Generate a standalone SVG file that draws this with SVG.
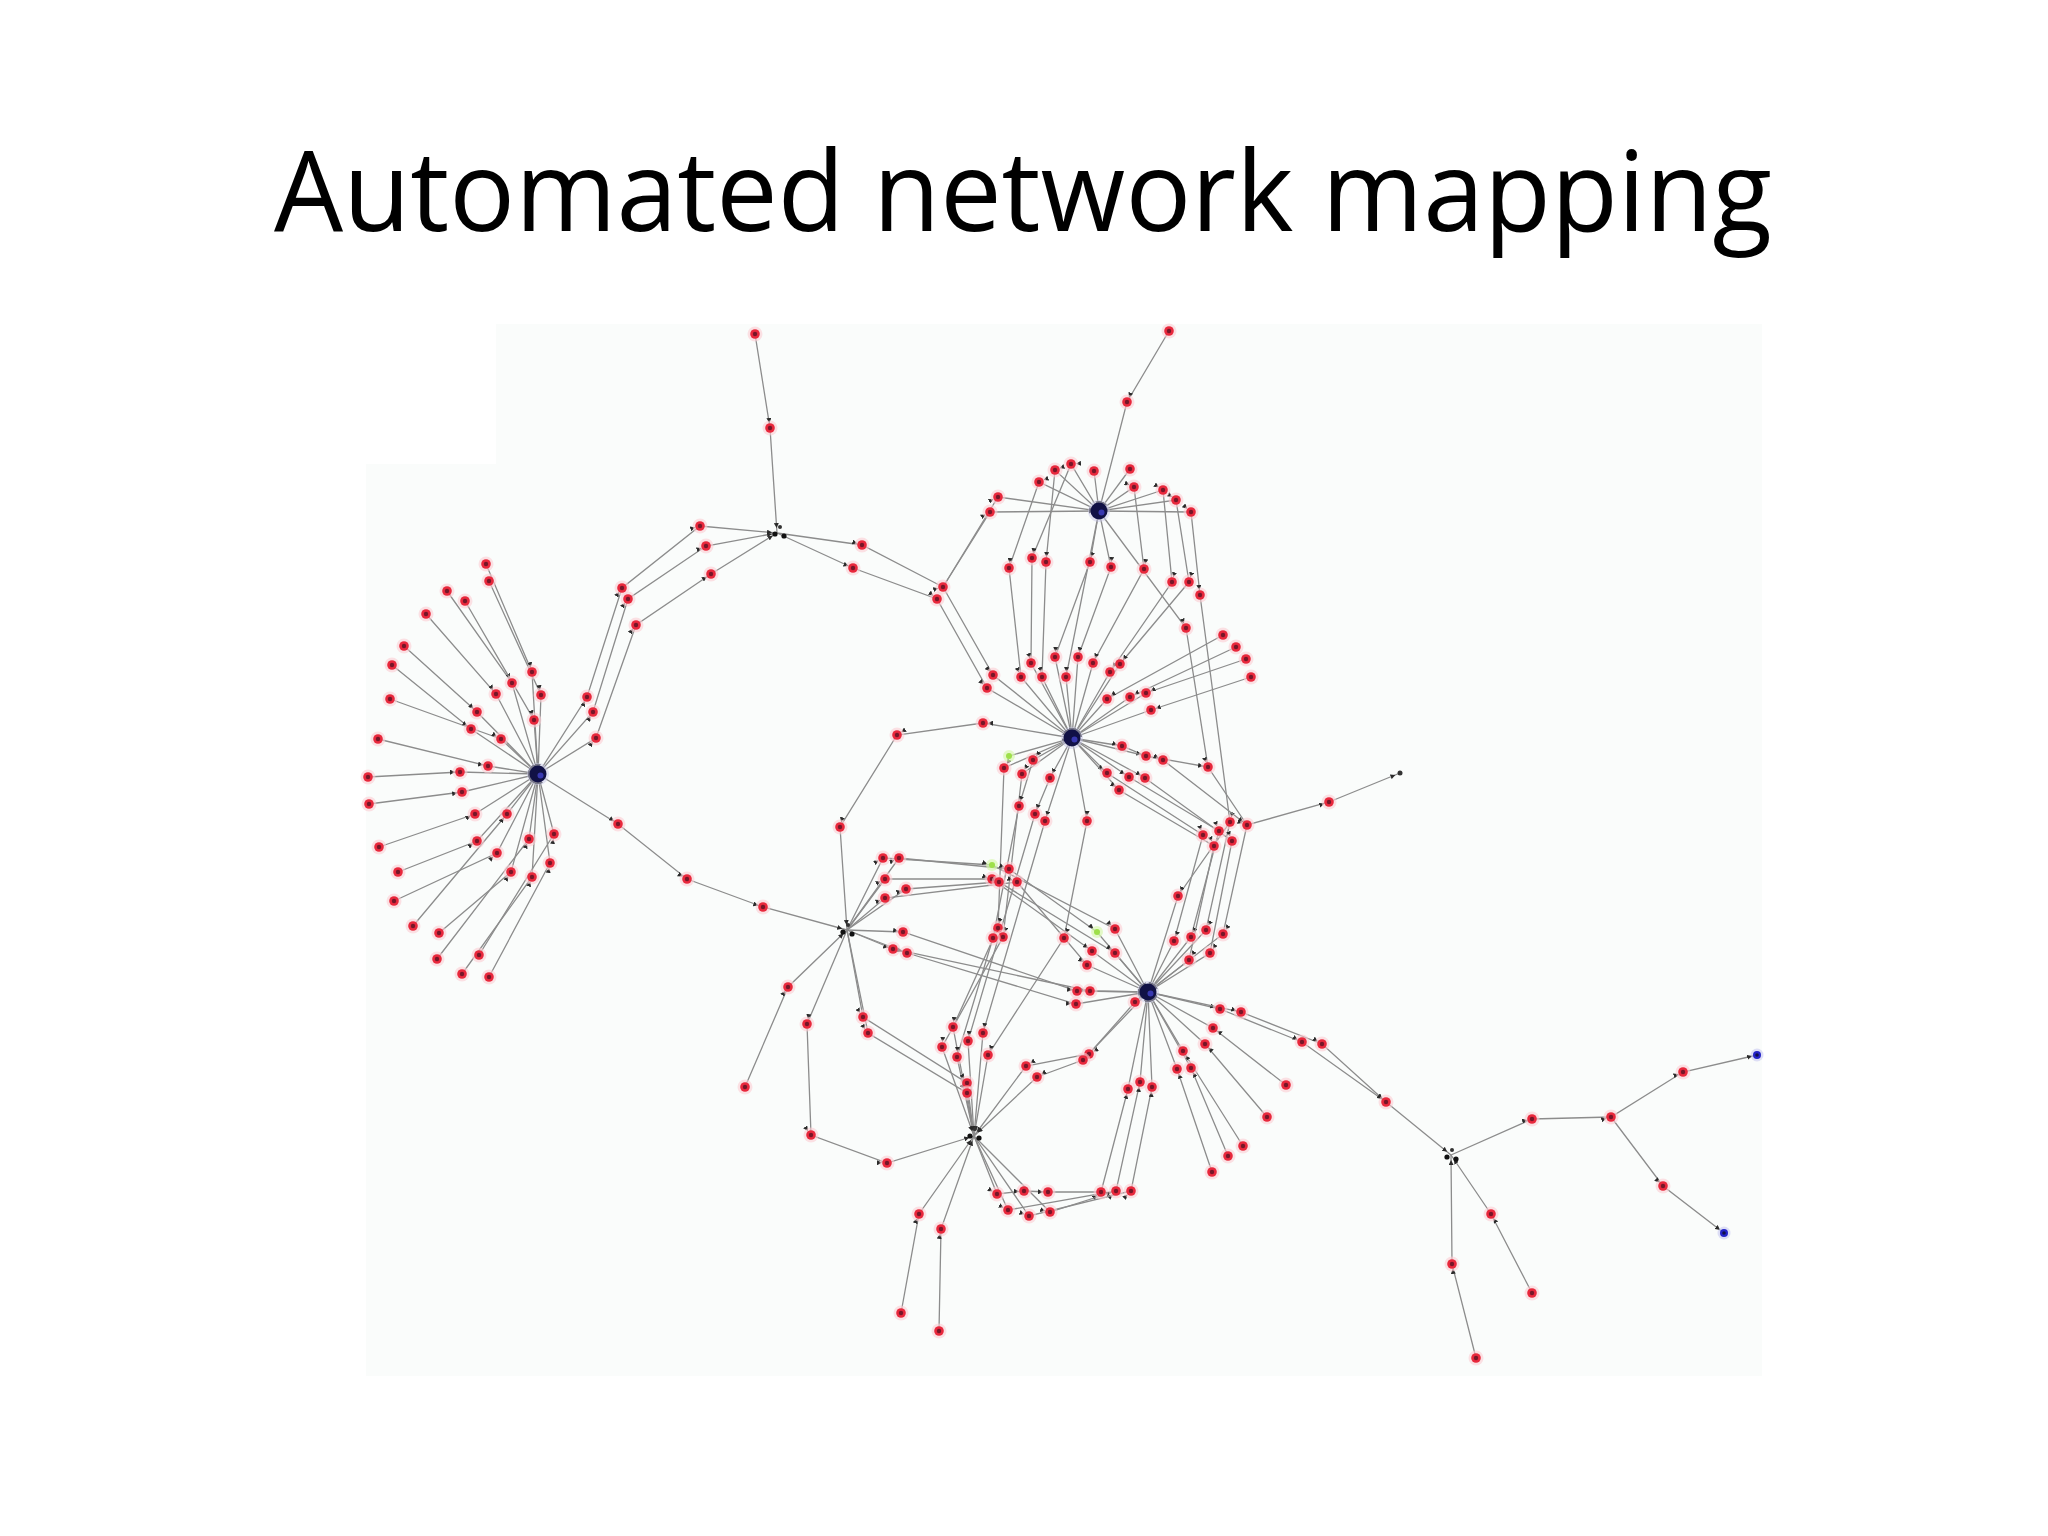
<svg xmlns="http://www.w3.org/2000/svg" xmlns:xlink="http://www.w3.org/1999/xlink" width="2048" height="1536" viewBox="0 0 2048 1536">
<style>
.e{fill:none;stroke:#8c8c8c;stroke-width:1.3;marker-mid:url(#a);marker-end:url(#a)}
.t{font-family:"Open Sans","Noto Sans","Liberation Sans",sans-serif;font-size:112px;fill:#000}
</style>
<defs>
<marker id="a" viewBox="0 0 6 6" refX="12" refY="3" markerWidth="5" markerHeight="5" markerUnits="userSpaceOnUse" orient="auto"><path d="M0,0L6,3L0,6z" fill="#2a2a2a"/></marker>
<g id="r"><circle r="7.5" fill="#fbcdd3" opacity="0.6"/><circle r="4.8" fill="#e8283c"/><circle r="2.2" fill="#761628"/></g>
<g id="bl"><circle r="6.5" fill="#c9c9f2" opacity="0.6"/><circle r="4" fill="#2424c8"/><circle r="1.8" fill="#10104a"/></g>
<g id="gr"><circle r="6" fill="#d8f8b0" opacity="0.7"/><circle r="3" fill="#9ee04a"/></g>
<g id="hb"><circle r="11" fill="#c8c8e8" opacity="0.5"/><circle r="8.5" fill="#111146"/><circle cx="2.5" cy="1.5" r="3" fill="#3838b0"/></g>
<g id="rt"><circle cx="-4" cy="0" r="2.6" fill="#111"/><circle cx="5" cy="2" r="2.6" fill="#111"/><circle cx="1" cy="-7" r="2" fill="#333"/></g>
</defs>
<rect width="2048" height="1536" fill="#ffffff"/>
<path d="M496,324H1762V1376H366V464H496Z" fill="#fafcfb"/>
<text class="t" x="274" y="231" textLength="1498" lengthAdjust="spacingAndGlyphs">Automated network mapping</text>
<g id="edges">
<polyline class="e" points="486,564 532,672 538,774"/>
<polyline class="e" points="489,581 541,695 538,774"/>
<polyline class="e" points="447,591 512,683 538,774"/>
<polyline class="e" points="465,601 534,720 538,774"/>
<polyline class="e" points="426,614 496,694 538,774"/>
<polyline class="e" points="404,646 477,712 538,774"/>
<polyline class="e" points="392,665 471,729 538,774"/>
<polyline class="e" points="390,699 501,739 538,774"/>
<polyline class="e" points="378,739 488,766 538,774"/>
<polyline class="e" points="368,777 460,772 538,774"/>
<polyline class="e" points="369,804 462,792 538,774"/>
<polyline class="e" points="379,847 475,814 538,774"/>
<polyline class="e" points="398,872 477,841 538,774"/>
<polyline class="e" points="394,901 497,853 538,774"/>
<polyline class="e" points="413,926 507,814 538,774"/>
<polyline class="e" points="439,933 511,872 538,774"/>
<polyline class="e" points="437,959 529,839 538,774"/>
<polyline class="e" points="462,974 532,877 538,774"/>
<polyline class="e" points="479,955 554,834 538,774"/>
<polyline class="e" points="489,977 550,863 538,774"/>
<polyline class="e" points="538,774 587,697 622,588 700,526 777,533"/>
<polyline class="e" points="538,774 593,712 628,599 706,546 777,533"/>
<polyline class="e" points="538,774 596,738 636,625 711,574 777,533"/>
<polyline class="e" points="538,774 618,824 687,879 763,907 847,930"/>
<polyline class="e" points="755,334 770,428 777,533"/>
<polyline class="e" points="777,533 862,545 943,587 990,512 1099,511"/>
<polyline class="e" points="943,587 998,497 1099,511"/>
<polyline class="e" points="777,533 853,568 937,599 987,688 1072,738"/>
<polyline class="e" points="943,587 993,675 1072,738"/>
<polyline class="e" points="1169,331 1127,402 1099,511"/>
<polyline class="e" points="1099,511 1039,482 1009,568 1021,677 1072,738"/>
<polyline class="e" points="1099,511 1071,464 1032,558 1031,663 1072,738"/>
<polyline class="e" points="1099,511 1055,470 1046,562 1042,677 1072,738"/>
<polyline class="e" points="1099,511 1090,562 1055,657 1072,738"/>
<polyline class="e" points="1099,511 1066,677 1072,738"/>
<polyline class="e" points="1099,511 1111,567 1078,657 1072,738"/>
<polyline class="e" points="1099,511 1134,487 1144,569 1093,663 1072,738"/>
<polyline class="e" points="1099,511 1163,490 1172,582 1110,672 1072,738"/>
<polyline class="e" points="1099,511 1176,500 1189,582 1120,664 1072,738"/>
<polyline class="e" points="1099,511 1191,512 1200,595 1230,822 1178,896 1148,992"/>
<polyline class="e" points="1094,471 1099,511"/>
<polyline class="e" points="1130,469 1099,511"/>
<polyline class="e" points="1099,511 1186,628 1208,767 1247,825 1329,802 1400,773"/>
<polyline class="e" points="1247,825 1223,934 1148,992"/>
<polyline class="e" points="1230,822 1206,930 1148,992"/>
<polyline class="e" points="1223,635 1107,699 1072,738"/>
<polyline class="e" points="1236,647 1130,697 1072,738"/>
<polyline class="e" points="1246,659 1146,693 1072,738"/>
<polyline class="e" points="1251,677 1151,710 1072,738"/>
<polyline class="e" points="1072,738 1122,746 1146,756 1208,767"/>
<polyline class="e" points="1072,738 1163,760 1247,825"/>
<polyline class="e" points="1072,738 1107,773 1203,835 1174,941 1148,992"/>
<polyline class="e" points="1072,738 1129,777 1219,831 1191,937 1148,992"/>
<polyline class="e" points="1072,738 1145,778 1232,841 1210,953 1148,992"/>
<polyline class="e" points="1072,738 1119,790 1214,846 1189,960 1148,992"/>
<polyline class="e" points="1009,756 1072,738"/>
<polyline class="e" points="1072,738 983,723 897,735 840,827 847,930"/>
<polyline class="e" points="1072,738 1004,768 998,928 953,1027 974,1136"/>
<polyline class="e" points="1072,738 1022,774 1003,937 942,1047 974,1136"/>
<polyline class="e" points="1072,738 1033,760 1019,806 993,938 957,1057 974,1136"/>
<polyline class="e" points="1072,738 1050,778 1035,814 968,1041 974,1136"/>
<polyline class="e" points="1072,738 1045,821 983,1033 974,1136"/>
<polyline class="e" points="1072,738 1087,821 1064,938 988,1055 974,1136"/>
<polyline class="e" points="847,930 883,858 992,865 1115,929 1148,992"/>
<polyline class="e" points="847,930 899,858 1009,869 1097,932 1148,992"/>
<polyline class="e" points="847,930 885,879 992,879 1092,951 1148,992"/>
<polyline class="e" points="847,930 906,889 999,882 1115,953 1148,992"/>
<polyline class="e" points="847,930 885,898 1017,882 1087,965 1148,992"/>
<polyline class="e" points="847,930 903,932 1077,991 1148,992"/>
<polyline class="e" points="847,930 893,949 1090,991 1148,992"/>
<polyline class="e" points="847,930 907,953 1076,1004 1148,992"/>
<polyline class="e" points="1148,992 1135,1002 1089,1054 1026,1066 974,1136"/>
<polyline class="e" points="1148,992 1083,1060 1037,1077 974,1136"/>
<polyline class="e" points="745,1087 788,987 847,930"/>
<polyline class="e" points="847,930 807,1024 811,1135 887,1163 974,1136"/>
<polyline class="e" points="847,930 863,1017 967,1083 974,1136"/>
<polyline class="e" points="847,930 868,1033 967,1093 974,1136"/>
<polyline class="e" points="901,1313 919,1214 974,1136"/>
<polyline class="e" points="939,1331 941,1229 974,1136"/>
<polyline class="e" points="974,1136 997,1194 1024,1191 1048,1192 1101,1192 1128,1089 1148,992"/>
<polyline class="e" points="974,1136 1008,1210 1116,1191 1140,1082 1148,992"/>
<polyline class="e" points="974,1136 1029,1216 1131,1191 1152,1087 1148,992"/>
<polyline class="e" points="974,1136 1050,1212 1116,1191"/>
<polyline class="e" points="1286,1085 1213,1028 1148,992"/>
<polyline class="e" points="1267,1117 1205,1044 1148,992"/>
<polyline class="e" points="1243,1146 1183,1051 1148,992"/>
<polyline class="e" points="1228,1156 1191,1068 1148,992"/>
<polyline class="e" points="1212,1172 1177,1069 1148,992"/>
<polyline class="e" points="1148,992 1220,1009 1302,1042 1386,1102 1451,1155"/>
<polyline class="e" points="1148,992 1241,1012 1322,1044 1386,1102"/>
<polyline class="e" points="1451,1155 1532,1119 1611,1117 1683,1072 1757,1055"/>
<polyline class="e" points="1611,1117 1663,1186 1724,1233"/>
<polyline class="e" points="1532,1293 1491,1214 1451,1155"/>
<polyline class="e" points="1476,1358 1452,1264 1451,1155"/>
</g>
<g id="nodes">
<g id="n1"><use href="#r" x="486" y="564"/></g>
<g id="n2"><use href="#r" x="489" y="581"/></g>
<g id="n3"><use href="#r" x="447" y="591"/></g>
<g id="n4"><use href="#r" x="465" y="601"/></g>
<g id="n5"><use href="#r" x="426" y="614"/></g>
<g id="n6"><use href="#r" x="404" y="646"/></g>
<g id="n7"><use href="#r" x="392" y="665"/></g>
<g id="n8"><use href="#r" x="390" y="699"/></g>
<g id="n9"><use href="#r" x="378" y="739"/></g>
<g id="n10"><use href="#r" x="368" y="777"/></g>
<g id="n11"><use href="#r" x="369" y="804"/></g>
<g id="n12"><use href="#r" x="379" y="847"/></g>
<g id="n13"><use href="#r" x="398" y="872"/></g>
<g id="n14"><use href="#r" x="394" y="901"/></g>
<g id="n15"><use href="#r" x="413" y="926"/></g>
<g id="n16"><use href="#r" x="439" y="933"/></g>
<g id="n17"><use href="#r" x="437" y="959"/></g>
<g id="n18"><use href="#r" x="479" y="955"/></g>
<g id="n19"><use href="#r" x="462" y="974"/></g>
<g id="n20"><use href="#r" x="489" y="977"/></g>
<g id="n21"><use href="#r" x="532" y="672"/></g>
<g id="n22"><use href="#r" x="541" y="695"/></g>
<g id="n23"><use href="#r" x="512" y="683"/></g>
<g id="n24"><use href="#r" x="534" y="720"/></g>
<g id="n25"><use href="#r" x="496" y="694"/></g>
<g id="n26"><use href="#r" x="477" y="712"/></g>
<g id="n27"><use href="#r" x="471" y="729"/></g>
<g id="n28"><use href="#r" x="501" y="739"/></g>
<g id="n29"><use href="#r" x="488" y="766"/></g>
<g id="n30"><use href="#r" x="460" y="772"/></g>
<g id="n31"><use href="#r" x="462" y="792"/></g>
<g id="n32"><use href="#r" x="475" y="814"/></g>
<g id="n33"><use href="#r" x="477" y="841"/></g>
<g id="n34"><use href="#r" x="497" y="853"/></g>
<g id="n35"><use href="#r" x="507" y="814"/></g>
<g id="n36"><use href="#r" x="511" y="872"/></g>
<g id="n37"><use href="#r" x="529" y="839"/></g>
<g id="n38"><use href="#r" x="532" y="877"/></g>
<g id="n39"><use href="#r" x="550" y="863"/></g>
<g id="n40"><use href="#r" x="554" y="834"/></g>
<g id="n41"><use href="#r" x="587" y="697"/></g>
<g id="n42"><use href="#r" x="622" y="588"/></g>
<g id="n43"><use href="#r" x="700" y="526"/></g>
<g id="n44"><use href="#r" x="593" y="712"/></g>
<g id="n45"><use href="#r" x="628" y="599"/></g>
<g id="n46"><use href="#r" x="706" y="546"/></g>
<g id="n47"><use href="#r" x="596" y="738"/></g>
<g id="n48"><use href="#r" x="636" y="625"/></g>
<g id="n49"><use href="#r" x="711" y="574"/></g>
<g id="n50"><use href="#r" x="618" y="824"/></g>
<g id="n51"><use href="#r" x="687" y="879"/></g>
<g id="n52"><use href="#r" x="763" y="907"/></g>
<g id="n53"><use href="#r" x="770" y="428"/></g>
<g id="n54"><use href="#r" x="755" y="334"/></g>
<g id="n55"><use href="#r" x="862" y="545"/></g>
<g id="n56"><use href="#r" x="853" y="568"/></g>
<g id="n57"><use href="#r" x="943" y="587"/></g>
<g id="n58"><use href="#r" x="937" y="599"/></g>
<g id="n59"><use href="#r" x="1127" y="402"/></g>
<g id="n60"><use href="#r" x="1169" y="331"/></g>
<g id="n61"><use href="#r" x="1039" y="482"/></g>
<g id="n62"><use href="#r" x="1055" y="470"/></g>
<g id="n63"><use href="#r" x="1071" y="464"/></g>
<g id="n64"><use href="#r" x="1094" y="471"/></g>
<g id="n65"><use href="#r" x="1130" y="469"/></g>
<g id="n66"><use href="#r" x="1134" y="487"/></g>
<g id="n67"><use href="#r" x="1163" y="490"/></g>
<g id="n68"><use href="#r" x="1176" y="500"/></g>
<g id="n69"><use href="#r" x="1191" y="512"/></g>
<g id="n70"><use href="#r" x="998" y="497"/></g>
<g id="n71"><use href="#r" x="990" y="512"/></g>
<g id="n72"><use href="#r" x="1009" y="568"/></g>
<g id="n73"><use href="#r" x="1032" y="558"/></g>
<g id="n74"><use href="#r" x="1046" y="562"/></g>
<g id="n75"><use href="#r" x="1090" y="562"/></g>
<g id="n76"><use href="#r" x="1111" y="567"/></g>
<g id="n77"><use href="#r" x="1144" y="569"/></g>
<g id="n78"><use href="#r" x="1172" y="582"/></g>
<g id="n79"><use href="#r" x="1189" y="582"/></g>
<g id="n80"><use href="#r" x="1200" y="595"/></g>
<g id="n81"><use href="#r" x="1186" y="628"/></g>
<g id="n82"><use href="#r" x="993" y="675"/></g>
<g id="n83"><use href="#r" x="1021" y="677"/></g>
<g id="n84"><use href="#r" x="1031" y="663"/></g>
<g id="n85"><use href="#r" x="1042" y="677"/></g>
<g id="n86"><use href="#r" x="1055" y="657"/></g>
<g id="n87"><use href="#r" x="1066" y="677"/></g>
<g id="n88"><use href="#r" x="1078" y="657"/></g>
<g id="n89"><use href="#r" x="1093" y="663"/></g>
<g id="n90"><use href="#r" x="1110" y="672"/></g>
<g id="n91"><use href="#r" x="1120" y="664"/></g>
<g id="n92"><use href="#r" x="987" y="688"/></g>
<g id="n93"><use href="#r" x="1107" y="699"/></g>
<g id="n94"><use href="#r" x="1130" y="697"/></g>
<g id="n95"><use href="#r" x="1146" y="693"/></g>
<g id="n96"><use href="#r" x="1151" y="710"/></g>
<g id="n97"><use href="#r" x="1223" y="635"/></g>
<g id="n98"><use href="#r" x="1236" y="647"/></g>
<g id="n99"><use href="#r" x="1246" y="659"/></g>
<g id="n100"><use href="#r" x="1251" y="677"/></g>
<g id="n101"><use href="#r" x="1122" y="746"/></g>
<g id="n102"><use href="#r" x="1146" y="756"/></g>
<g id="n103"><use href="#r" x="1163" y="760"/></g>
<g id="n104"><use href="#r" x="1208" y="767"/></g>
<g id="n105"><use href="#r" x="1247" y="825"/></g>
<g id="n106"><use href="#r" x="1329" y="802"/></g>
<g id="n107"><use href="#r" x="1107" y="773"/></g>
<g id="n108"><use href="#r" x="1129" y="777"/></g>
<g id="n109"><use href="#r" x="1145" y="778"/></g>
<g id="n110"><use href="#r" x="1119" y="790"/></g>
<g id="n111"><use href="#r" x="1203" y="835"/></g>
<g id="n112"><use href="#r" x="1219" y="831"/></g>
<g id="n113"><use href="#r" x="1232" y="841"/></g>
<g id="n114"><use href="#r" x="1214" y="846"/></g>
<g id="n115"><use href="#r" x="1230" y="822"/></g>
<g id="n116"><use href="#r" x="1178" y="896"/></g>
<g id="n117"><use href="#r" x="1174" y="941"/></g>
<g id="n118"><use href="#r" x="1191" y="937"/></g>
<g id="n119"><use href="#r" x="1206" y="930"/></g>
<g id="n120"><use href="#r" x="1223" y="934"/></g>
<g id="n121"><use href="#r" x="1189" y="960"/></g>
<g id="n122"><use href="#r" x="1210" y="953"/></g>
<g id="n123"><use href="#gr" x="1009" y="756"/></g>
<g id="n124"><use href="#gr" x="992" y="865"/></g>
<g id="n125"><use href="#gr" x="1097" y="932"/></g>
<g id="n126"><use href="#r" x="983" y="723"/></g>
<g id="n127"><use href="#r" x="897" y="735"/></g>
<g id="n128"><use href="#r" x="840" y="827"/></g>
<g id="n129"><use href="#r" x="1004" y="768"/></g>
<g id="n130"><use href="#r" x="998" y="928"/></g>
<g id="n131"><use href="#r" x="953" y="1027"/></g>
<g id="n132"><use href="#r" x="1022" y="774"/></g>
<g id="n133"><use href="#r" x="1003" y="937"/></g>
<g id="n134"><use href="#r" x="942" y="1047"/></g>
<g id="n135"><use href="#r" x="1033" y="760"/></g>
<g id="n136"><use href="#r" x="1019" y="806"/></g>
<g id="n137"><use href="#r" x="993" y="938"/></g>
<g id="n138"><use href="#r" x="957" y="1057"/></g>
<g id="n139"><use href="#r" x="1050" y="778"/></g>
<g id="n140"><use href="#r" x="1035" y="814"/></g>
<g id="n141"><use href="#r" x="968" y="1041"/></g>
<g id="n142"><use href="#r" x="1045" y="821"/></g>
<g id="n143"><use href="#r" x="983" y="1033"/></g>
<g id="n144"><use href="#r" x="1087" y="821"/></g>
<g id="n145"><use href="#r" x="1064" y="938"/></g>
<g id="n146"><use href="#r" x="988" y="1055"/></g>
<g id="n147"><use href="#r" x="883" y="858"/></g>
<g id="n148"><use href="#r" x="1115" y="929"/></g>
<g id="n149"><use href="#r" x="899" y="858"/></g>
<g id="n150"><use href="#r" x="1009" y="869"/></g>
<g id="n151"><use href="#r" x="885" y="879"/></g>
<g id="n152"><use href="#r" x="992" y="879"/></g>
<g id="n153"><use href="#r" x="1092" y="951"/></g>
<g id="n154"><use href="#r" x="906" y="889"/></g>
<g id="n155"><use href="#r" x="999" y="882"/></g>
<g id="n156"><use href="#r" x="1115" y="953"/></g>
<g id="n157"><use href="#r" x="885" y="898"/></g>
<g id="n158"><use href="#r" x="1017" y="882"/></g>
<g id="n159"><use href="#r" x="1087" y="965"/></g>
<g id="n160"><use href="#r" x="903" y="932"/></g>
<g id="n161"><use href="#r" x="1077" y="991"/></g>
<g id="n162"><use href="#r" x="893" y="949"/></g>
<g id="n163"><use href="#r" x="1090" y="991"/></g>
<g id="n164"><use href="#r" x="907" y="953"/></g>
<g id="n165"><use href="#r" x="1076" y="1004"/></g>
<g id="n166"><use href="#r" x="1135" y="1002"/></g>
<g id="n167"><use href="#r" x="1089" y="1054"/></g>
<g id="n168"><use href="#r" x="1083" y="1060"/></g>
<g id="n169"><use href="#r" x="1026" y="1066"/></g>
<g id="n170"><use href="#r" x="1037" y="1077"/></g>
<g id="n171"><use href="#r" x="788" y="987"/></g>
<g id="n172"><use href="#r" x="745" y="1087"/></g>
<g id="n173"><use href="#r" x="807" y="1024"/></g>
<g id="n174"><use href="#r" x="811" y="1135"/></g>
<g id="n175"><use href="#r" x="887" y="1163"/></g>
<g id="n176"><use href="#r" x="863" y="1017"/></g>
<g id="n177"><use href="#r" x="868" y="1033"/></g>
<g id="n178"><use href="#r" x="967" y="1083"/></g>
<g id="n179"><use href="#r" x="967" y="1093"/></g>
<g id="n180"><use href="#r" x="919" y="1214"/></g>
<g id="n181"><use href="#r" x="901" y="1313"/></g>
<g id="n182"><use href="#r" x="941" y="1229"/></g>
<g id="n183"><use href="#r" x="939" y="1331"/></g>
<g id="n184"><use href="#r" x="997" y="1194"/></g>
<g id="n185"><use href="#r" x="1024" y="1191"/></g>
<g id="n186"><use href="#r" x="1048" y="1192"/></g>
<g id="n187"><use href="#r" x="1101" y="1192"/></g>
<g id="n188"><use href="#r" x="1008" y="1210"/></g>
<g id="n189"><use href="#r" x="1116" y="1191"/></g>
<g id="n190"><use href="#r" x="1029" y="1216"/></g>
<g id="n191"><use href="#r" x="1131" y="1191"/></g>
<g id="n192"><use href="#r" x="1050" y="1212"/></g>
<g id="n193"><use href="#r" x="1128" y="1089"/></g>
<g id="n194"><use href="#r" x="1140" y="1082"/></g>
<g id="n195"><use href="#r" x="1152" y="1087"/></g>
<g id="n196"><use href="#r" x="1213" y="1028"/></g>
<g id="n197"><use href="#r" x="1286" y="1085"/></g>
<g id="n198"><use href="#r" x="1205" y="1044"/></g>
<g id="n199"><use href="#r" x="1267" y="1117"/></g>
<g id="n200"><use href="#r" x="1183" y="1051"/></g>
<g id="n201"><use href="#r" x="1243" y="1146"/></g>
<g id="n202"><use href="#r" x="1191" y="1068"/></g>
<g id="n203"><use href="#r" x="1228" y="1156"/></g>
<g id="n204"><use href="#r" x="1177" y="1069"/></g>
<g id="n205"><use href="#r" x="1212" y="1172"/></g>
<g id="n206"><use href="#r" x="1220" y="1009"/></g>
<g id="n207"><use href="#r" x="1241" y="1012"/></g>
<g id="n208"><use href="#r" x="1302" y="1042"/></g>
<g id="n209"><use href="#r" x="1322" y="1044"/></g>
<g id="n210"><use href="#r" x="1386" y="1102"/></g>
<g id="n211"><use href="#r" x="1532" y="1119"/></g>
<g id="n212"><use href="#r" x="1611" y="1117"/></g>
<g id="n213"><use href="#r" x="1683" y="1072"/></g>
<g id="n214"><use href="#r" x="1663" y="1186"/></g>
<g id="n215"><use href="#r" x="1491" y="1214"/></g>
<g id="n216"><use href="#r" x="1532" y="1293"/></g>
<g id="n217"><use href="#r" x="1452" y="1264"/></g>
<g id="n218"><use href="#r" x="1476" y="1358"/></g>
<g id="n219"><use href="#bl" x="1757" y="1055"/></g>
<g id="n220"><use href="#bl" x="1724" y="1233"/></g>
<g id="n221"><circle cx="1400" cy="773" r="2.5" fill="#333"/></g>
<g id="h1"><use href="#hb" x="538" y="774"/></g>
<g id="h2"><use href="#hb" x="1072" y="738"/></g>
<g id="h3"><use href="#hb" x="1099" y="511"/></g>
<g id="h4"><use href="#hb" x="1148" y="992"/></g>
<g id="r1"><use href="#rt" x="779" y="534"/></g>
<g id="r2"><use href="#rt" x="847" y="932"/></g>
<g id="r3"><use href="#rt" x="974" y="1136"/></g>
<g id="r4"><use href="#rt" x="1451" y="1157"/></g>
</g>
</svg>
